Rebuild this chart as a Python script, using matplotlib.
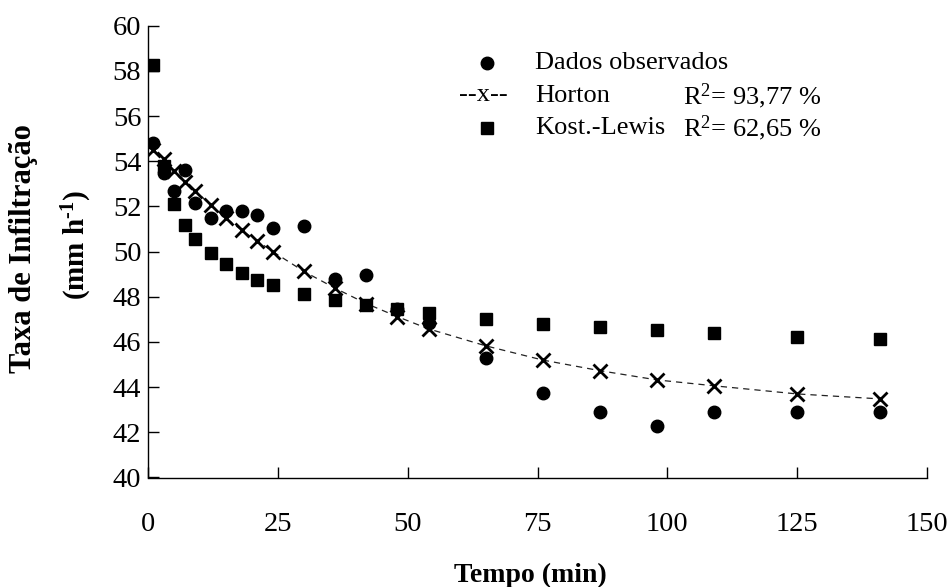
import matplotlib
matplotlib.use("Agg")
import matplotlib.pyplot as plt
from matplotlib.lines import Line2D

plt.rcParams['font.family'] = ['Liberation Serif', 'DejaVu Serif']
plt.rcParams['mathtext.fontset'] = 'custom'
plt.rcParams['mathtext.rm'] = 'Liberation Serif'
plt.rcParams['mathtext.it'] = 'Liberation Serif'
plt.rcParams['mathtext.bf'] = 'Liberation Serif:bold'

# Data
tempo = [1, 3, 5, 7, 9, 12, 15, 18, 21, 24, 30, 36, 42, 48, 54, 65, 76, 87, 98, 109, 125, 141]
observado = [54.8, 53.5, 52.7, 53.6, 52.15, 51.5, 51.8, 51.8, 51.6, 51.05, 51.15, 48.78,
             48.98, 47.48, 46.83, 45.28, 43.76, 42.92, 42.29, 42.92, 42.92, 42.92]
horton = [54.5, 54.1, 53.58, 53.1, 52.69, 52.08, 51.48, 50.94, 50.47, 50.0, 49.12, 48.38,
          47.7, 47.12, 46.58, 45.83, 45.2, 44.73, 44.32, 44.06, 43.7, 43.48]
kost_lewis = [58.25, 53.8, 52.1, 51.18, 50.56, 49.93, 49.44, 49.07, 48.75, 48.53, 48.11, 47.86,
              47.65, 47.45, 47.27, 47.0, 46.8, 46.65, 46.53, 46.39, 46.22, 46.12]
xticks = [0, 25, 50, 75, 100, 125, 150]
yticks = [40, 42, 44, 46, 48, 50, 52, 54, 56, 58, 60]

W, H = 953, 587
fig = plt.figure(figsize=(W / 100, H / 100), dpi=100)
ax = fig.add_axes([148.3 / W, 1 - 477.5 / H, (926.7 - 148.3) / W, (477.5 - 25.7) / H])

ax.plot(tempo, horton, color='#222222', lw=0.9, ls=(0, (5, 4)), zorder=1)
ax.plot(tempo, kost_lewis, ls='none', marker='s', ms=8.5, color='black', zorder=2)
ax.plot(tempo, observado, ls='none', marker='o', ms=9, color='black', zorder=3)
ax.plot(tempo, horton, ls='none', marker='x', ms=10, mew=2, color='black', zorder=4)

ax.set_xlim(0, 150)
ax.set_ylim(40, 60)
ax.set_xticks(xticks)
ax.set_yticks(yticks)
ax.spines['top'].set_visible(False)
ax.spines['right'].set_visible(False)
for s in ('left', 'bottom'):
    ax.spines[s].set_linewidth(1.0)
ax.tick_params(axis='x', direction='in', length=8, width=1, pad=25, labelsize=20.5)
ax.tick_params(axis='y', direction='in', length=8, width=1, pad=5, labelsize=20.5)

# Axis labels
fig.text(530 / W, 1 - 575 / H, 'Tempo (min)', ha='center', va='center',
         fontsize=20, fontweight='bold')
fig.text(24 / W, 1 - 249 / H, 'Taxa de Infiltração', ha='center', va='center',
         rotation=90, fontsize=22, fontweight='bold')
fig.text(77 / W, 1 - 245 / H, r'(mm h$^{\mathbf{\text{-}1}}$)', ha='center', va='center',
         rotation=90, fontsize=21, fontweight='bold')

# Legend (manual)
fig.add_artist(Line2D([486.5 / W], [1 - 63 / H], marker='o', ms=9, color='black', ls='none'))
fig.add_artist(Line2D([486.5 / W], [1 - 128 / H], marker='s', ms=8.5, color='black', ls='none'))
fig.text(483 / W, 1 - 95 / H, '--x--', ha='center', va='center', fontsize=19)
fig.text(535 / W, 1 - 63 / H, 'Dados observados', ha='left', va='center', fontsize=19)
fig.text(535 / W, 1 - 96 / H, 'Horton', ha='left', va='center', fontsize=19)
fig.text(535 / W, 1 - 128 / H, 'Kost.-Lewis', ha='left', va='center', fontsize=19)
fig.text(683 / W, 1 - 96 / H, r'R$^{2}$= 93,77 %', ha='left', va='center', fontsize=19)
fig.text(683 / W, 1 - 128 / H, r'R$^{2}$= 62,65 %', ha='left', va='center', fontsize=19)

fig.savefig('out.png', dpi=100)
